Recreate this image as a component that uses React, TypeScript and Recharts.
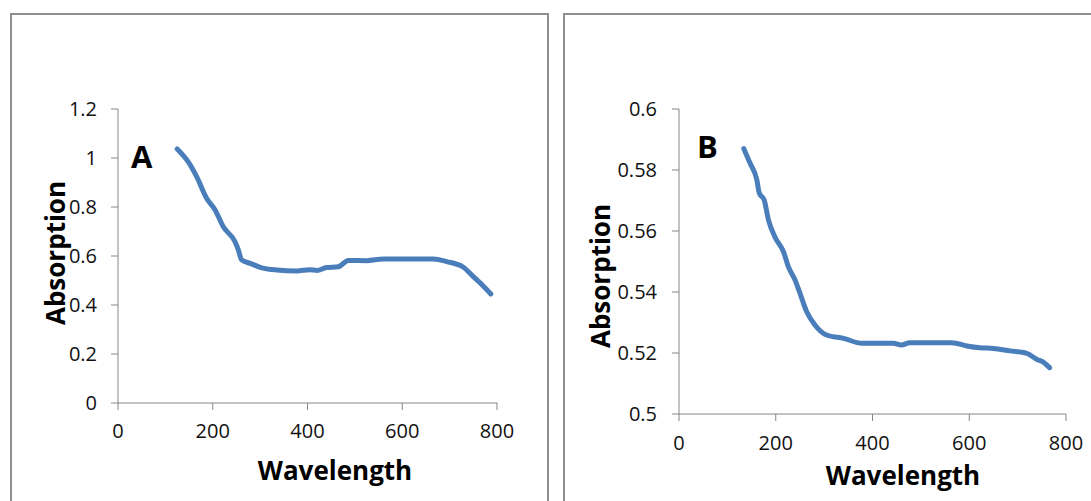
import React from "react";
import { LineChart, Line, XAxis, YAxis } from "recharts";

// Panel A: wavelength / absorption
const wavelengthA = [125, 148, 166, 187, 205, 222, 247, 254, 261, 279, 300, 335, 377, 405, 420, 440, 465, 486, 525, 560, 666, 694, 729, 750, 771, 787];
const absorptionA = [1.037, 0.985, 0.924, 0.836, 0.788, 0.72, 0.658, 0.625, 0.584, 0.57, 0.554, 0.543, 0.539, 0.544, 0.541, 0.553, 0.556, 0.582, 0.581, 0.588, 0.588, 0.577, 0.554, 0.516, 0.478, 0.445];

// Panel B
const wavelengthB = [134, 147, 161, 166, 176, 185, 198, 216, 226, 240, 250, 264, 281, 305, 340, 378, 443, 460, 477, 564, 595, 622, 650, 684, 719, 740, 753, 766];
const absorptionB = [0.587, 0.5822, 0.5767, 0.5724, 0.5702, 0.5636, 0.5581, 0.5532, 0.5483, 0.5439, 0.5396, 0.5335, 0.5292, 0.5259, 0.5248, 0.5232, 0.5232, 0.5226, 0.5234, 0.5234, 0.5223, 0.5217, 0.5215, 0.5207, 0.5199, 0.5179, 0.517, 0.5152];

const xTicks = [0, 200, 400, 600, 800];
const yTicksA = [0, 0.2, 0.4, 0.6, 0.8, 1, 1.2];
const yTicksB = [0.5, 0.52, 0.54, 0.56, 0.58, 0.6];

const dataA = wavelengthA.map((w, i) => ({ w, v: absorptionA[i] }));
const dataB = wavelengthB.map((w, i) => ({ w, v: absorptionB[i] }));

const FONT = "'Open Sans', sans-serif";
const AXIS = "#868686";
const BLUE = "#4a7ebb";
const tickStyle = { fontSize: 20, fill: "#111", fontFamily: FONT };
const titleStyle: React.CSSProperties = { fontSize: 26, fontWeight: 700, fill: "#000", fontFamily: FONT };

const frame = (left: number, width: number): React.CSSProperties => ({
  position: "absolute",
  left,
  top: 13,
  width,
  height: 520,
  border: "2px solid #8f8f8f",
  boxSizing: "border-box",
});

const letter = (left: number, top: number): React.CSSProperties => ({
  position: "absolute",
  left,
  top,
  fontFamily: FONT,
  fontWeight: 700,
  fontSize: 31,
  lineHeight: "31px",
  color: "#000",
});

export default function App() {
  return (
    <div style={{ position: "absolute", left: 0, top: 0, width: 1091, height: 501, overflow: "hidden", background: "#fff" }}>
      <div style={frame(10, 539)} />
      <div style={frame(563, 540)} />

      <div style={{ position: "absolute", left: 0, top: 0 }}>
        <LineChart width={560} height={501} data={dataA} margin={{ top: 109, right: 63, bottom: 0, left: 0 }}>
          <XAxis
            dataKey="w"
            type="number"
            domain={[0, 800]}
            ticks={xTicks}
            height={98}
            stroke={AXIS}
            tickSize={7}
            tickMargin={14}
            tick={tickStyle}
            label={() => (
              <text x={335} y={480} textAnchor="middle" style={titleStyle}>
                Wavelength
              </text>
            )}
          />
          <YAxis
            type="number"
            domain={[0, 1.2]}
            ticks={yTicksA}
            width={118}
            stroke={AXIS}
            tickSize={7}
            tickMargin={14}
            tick={tickStyle}
            label={() => (
              <text x={55} y={253} textAnchor="middle" dominantBaseline="central" transform="rotate(-90 55 253)" style={titleStyle}>
                Absorption
              </text>
            )}
          />
          <Line type="monotone" dataKey="v" stroke={BLUE} strokeWidth={5} strokeLinecap="round" dot={false} isAnimationActive={false} />
        </LineChart>
      </div>
      <div style={letter(131, 141)}>A</div>

      <div style={{ position: "absolute", left: 560, top: 0 }}>
        <LineChart width={531} height={501} data={dataB} margin={{ top: 109, right: 25, bottom: 0, left: 0 }}>
          <XAxis
            dataKey="w"
            type="number"
            domain={[0, 800]}
            ticks={xTicks}
            height={87}
            stroke={AXIS}
            tickSize={7}
            tickMargin={15}
            tick={tickStyle}
            label={() => (
              <text x={343} y={485} textAnchor="middle" style={titleStyle}>
                Wavelength
              </text>
            )}
          />
          <YAxis
            type="number"
            domain={[0.5, 0.6]}
            ticks={yTicksB}
            width={119}
            stroke={AXIS}
            tickSize={7}
            tickMargin={15}
            tick={tickStyle}
            label={() => (
              <text x={40} y={276} textAnchor="middle" dominantBaseline="central" transform="rotate(-90 40 276)" style={titleStyle}>
                Absorption
              </text>
            )}
          />
          <Line type="monotone" dataKey="v" stroke={BLUE} strokeWidth={5} strokeLinecap="round" dot={false} isAnimationActive={false} />
        </LineChart>
      </div>
      <div style={letter(697, 131)}>B</div>
    </div>
  );
}
